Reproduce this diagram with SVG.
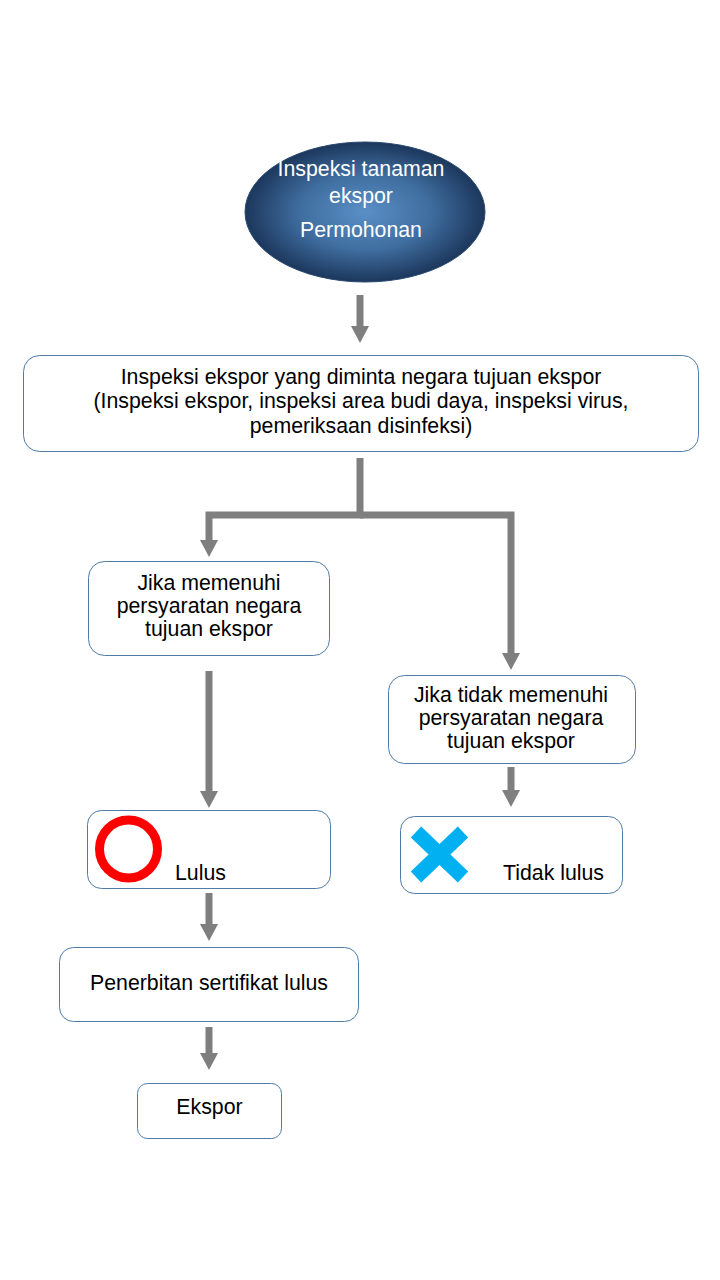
<svg xmlns="http://www.w3.org/2000/svg" width="720" height="1280" viewBox="0 0 720 1280">
<style>
.box{fill:#ffffff;stroke:#4f7ba6;stroke-width:1}
.t{font-family:"Liberation Sans",Arial,sans-serif;font-size:21.3px;fill:#000000;text-anchor:middle}
.tl{font-family:"Liberation Sans",Arial,sans-serif;font-size:21.3px;fill:#000000}
.w{font-family:"Liberation Sans",Arial,sans-serif;font-size:21.3px;fill:#ffffff;text-anchor:middle}
.c{fill:none;stroke:#7f7f7f;stroke-width:7;stroke-linejoin:miter}
</style>
<defs>
<radialGradient id="g" cx="50%" cy="50%" r="50%">
<stop offset="0" stop-color="#5a8fc6"/>
<stop offset="0.55" stop-color="#3f6d9f"/>
<stop offset="1" stop-color="#1c375c"/>
</radialGradient>
<marker id="ah" markerUnits="userSpaceOnUse" viewBox="0 0 17 18" markerWidth="17" markerHeight="18" refX="0" refY="9" orient="auto">
<path d="M0,0 L17,9 L0,18 z" fill="#7f7f7f"/>
</marker>
</defs>
<rect width="720" height="1280" fill="#ffffff"/>
<g id="connectors">
<path class="c" d="M360,295 V326" marker-end="url(#ah)"/>
<path class="c" d="M360,458 V515 H209 V540" marker-end="url(#ah)"/>
<path class="c" d="M360,515 H511 V653" marker-end="url(#ah)"/>
<path class="c" d="M209,671 V791" marker-end="url(#ah)"/>
<path class="c" d="M511,767 V790" marker-end="url(#ah)"/>
<path class="c" d="M209,893 V924" marker-end="url(#ah)"/>
<path class="c" d="M209,1027 V1053" marker-end="url(#ah)"/>
</g>
<g id="start">
<ellipse cx="365" cy="212" rx="120" ry="70" fill="url(#g)" stroke="#2a4a72" stroke-width="1"/>
<text class="w" x="361" y="176">Inspeksi tanaman</text>
<text class="w" x="361" y="203">ekspor</text>
<text class="w" x="361" y="237">Permohonan</text>
</g>
<g id="inspection">
<rect class="box" x="23.5" y="355.5" width="675" height="96" rx="16"/>
<text class="t" x="361" y="384">Inspeksi ekspor yang diminta negara tujuan ekspor</text>
<text class="t" x="361" y="408">(Inspeksi ekspor, inspeksi area budi daya, inspeksi virus,</text>
<text class="t" x="361" y="433">pemeriksaan disinfeksi)</text>
</g>
<g id="meets">
<rect class="box" x="88.5" y="561.5" width="241" height="94" rx="16"/>
<text class="t" x="209" y="590">Jika memenuhi</text>
<text class="t" x="209" y="613">persyaratan negara</text>
<text class="t" x="209" y="636">tujuan ekspor</text>
</g>
<g id="notmeets">
<rect class="box" x="388.5" y="675.5" width="247" height="88" rx="16"/>
<text class="t" x="511" y="702">Jika tidak memenuhi</text>
<text class="t" x="511" y="725">persyaratan negara</text>
<text class="t" x="511" y="748">tujuan ekspor</text>
</g>
<g id="pass">
<rect class="box" x="87.5" y="810.5" width="243" height="78" rx="14"/>
<circle cx="128.5" cy="849" r="29" fill="none" stroke="#ff0000" stroke-width="9"/>
<text class="tl" x="175" y="880">Lulus</text>
</g>
<g id="fail">
<rect class="box" x="400.5" y="816.5" width="222" height="77" rx="14"/>
<path d="M416,832 L463,877 M463,832 L416,877" stroke="#00b0f0" stroke-width="15" fill="none"/>
<text class="tl" x="503" y="880">Tidak lulus</text>
</g>
<g id="certificate">
<rect class="box" x="59.5" y="947.5" width="299" height="74" rx="14"/>
<text class="t" x="209" y="990">Penerbitan sertifikat lulus</text>
</g>
<g id="export">
<rect class="box" x="137.5" y="1083.5" width="144" height="55" rx="10"/>
<text class="t" x="209.5" y="1114">Ekspor</text>
</g>
</svg>
